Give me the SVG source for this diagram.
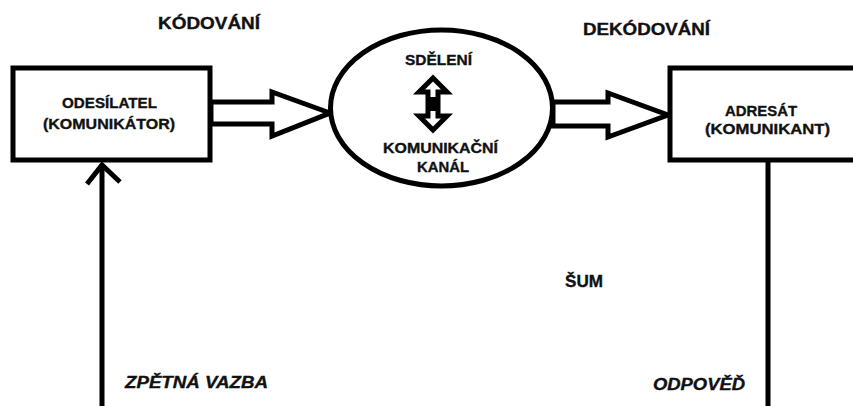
<svg xmlns="http://www.w3.org/2000/svg" width="853" height="406" viewBox="0 0 853 406">
<style>
.s{fill:none;stroke:#000;stroke-width:5;stroke-linejoin:miter}
.w{fill:#fff;stroke:#000;stroke-width:5}
.t{font-family:"Liberation Sans",Arial,sans-serif;font-weight:bold;font-size:15px;fill:#111;stroke:#111;stroke-width:0.35}
.l{font-family:"Liberation Sans",Arial,sans-serif;font-weight:bold;font-size:16px;fill:#111;stroke:#111;stroke-width:0.35}
.i{font-style:italic}
</style>
<rect width="853" height="406" fill="#fff"/>
<g id="connectors">
<polygon class="w" points="211,102 272,102 272,92 330,113 272,136 272,124 211,124"/>
<polygon class="w" points="553,102 608,102 608,93 668,115 608,137 608,126 553,126"/>
<line class="s" x1="102" y1="164" x2="102" y2="406"/>
<polyline class="s" points="87,184 102,165 120,182"/>
<line class="s" x1="768" y1="160" x2="768" y2="406"/>
</g>
<g id="odesilatel">
<rect class="w" x="13" y="68" width="197" height="92"/>
<text class="t" x="62" y="108" textLength="95" lengthAdjust="spacingAndGlyphs">ODESÍLATEL</text>
<text class="t" x="43" y="129" textLength="132" lengthAdjust="spacingAndGlyphs">(KOMUNIKÁTOR)</text>
</g>
<g id="kanal">
<ellipse class="w" cx="441.5" cy="108" rx="111" ry="78"/>
<text class="t" x="405" y="65" textLength="67" lengthAdjust="spacingAndGlyphs">SDĚLENÍ</text>
<polygon class="w" points="433,78 447,92 438,92 438,116 447,116 433,130 419,116 428,116 428,92 419,92" stroke-width="4"/>
<rect x="428" y="97" width="10" height="14" fill="#000"/>
<text class="t" x="383" y="153" textLength="115" lengthAdjust="spacingAndGlyphs">KOMUNIKAČNÍ</text>
<text class="t" x="417" y="172" textLength="52" lengthAdjust="spacingAndGlyphs">KANÁL</text>
</g>
<g id="adresat">
<rect class="w" x="670" y="68" width="190" height="92"/>
<text class="t" x="725" y="116" textLength="72" lengthAdjust="spacingAndGlyphs">ADRESÁT</text>
<text class="t" x="705" y="134" textLength="125" lengthAdjust="spacingAndGlyphs">(KOMUNIKANT)</text>
</g>
<g id="labels">
<text class="l" x="158" y="29" textLength="102" lengthAdjust="spacingAndGlyphs">KÓDOVÁNÍ</text>
<text class="l" x="583" y="35" textLength="127" lengthAdjust="spacingAndGlyphs">DEKÓDOVÁNÍ</text>
<text class="l" x="565" y="287" textLength="38" lengthAdjust="spacingAndGlyphs">ŠUM</text>
<text class="l i" x="125" y="388" textLength="143" lengthAdjust="spacingAndGlyphs">ZPĚTNÁ VAZBA</text>
<text class="l i" x="653" y="390" textLength="92" lengthAdjust="spacingAndGlyphs">ODPOVĚĎ</text>
</g>
</svg>
